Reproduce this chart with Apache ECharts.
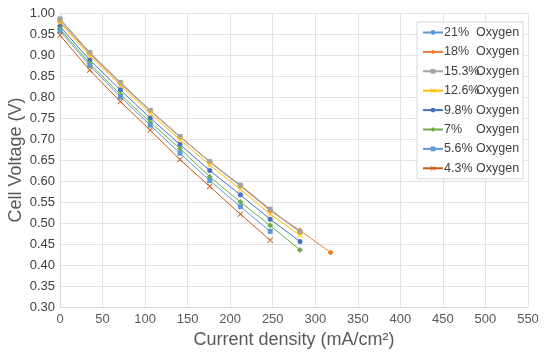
<!DOCTYPE html>
<html>
<head>
<meta charset="utf-8">
<script src="https://cdn.jsdelivr.net/npm/echarts@6/dist/echarts.min.js"></script>
<style>html,body{margin:0;padding:0;background:#fff}#c{width:550px;height:355px}</style>
</head>
<body>
<div id="c"></div>
<script>
const currentDensity = [0, 35, 71, 106, 141, 176, 212, 247, 282, 318];
const seriesNames = ['21%', '18%', '15.3%', '12.6%', '9.8%', '7%', '5.6%', '4.3%'];
const v21  = [0.985, 0.905, 0.835, 0.768, 0.706, 0.645, 0.588, 0.531, 0.479];
const v18  = [0.980, 0.903, 0.832, 0.767, 0.705, 0.646, 0.589, 0.530, 0.482, 0.430];
const v153 = [0.986, 0.906, 0.834, 0.768, 0.706, 0.646, 0.590, 0.533, 0.478];
const v126 = [0.976, 0.898, 0.828, 0.761, 0.698, 0.638, 0.580, 0.521, 0.471];
const v98  = [0.968, 0.888, 0.817, 0.750, 0.687, 0.625, 0.567, 0.509, 0.456];
const v7   = [0.962, 0.880, 0.806, 0.740, 0.677, 0.610, 0.550, 0.494, 0.436];
const v56  = [0.957, 0.875, 0.800, 0.733, 0.666, 0.601, 0.539, 0.480];
const v43  = [0.947, 0.864, 0.789, 0.721, 0.651, 0.587, 0.521, 0.459];
const xTicks = [0, 50, 100, 150, 200, 250, 300, 350, 400, 450, 500, 550];
const yTicks = [0.30, 0.35, 0.40, 0.45, 0.50, 0.55, 0.60, 0.65, 0.70, 0.75, 0.80, 0.85, 0.90, 0.95, 1.00];

const allValues = [v21, v18, v153, v126, v98, v7, v56, v43];
const colors = ['#5B9BD5', '#ED7D31', '#A5A5A5', '#FFC000', '#4472C4', '#70AD47', '#5B9BD5', '#C55A11'];
const crossPath = 'path://M1,0L5,4L9,0L10,1L6,5L10,9L9,10L5,6L1,10L0,9L4,5L0,1Z';
const symbols = ['circle', 'diamond', 'rect', crossPath, 'circle', 'diamond', 'rect', crossPath];
const sizes = [5, 6, 5, 6, 5, 6, 5, 6];

const series = allValues.map((vals, i) => ({
  name: seriesNames[i],
  type: 'line',
  data: vals.map((v, j) => [currentDensity[j], v]),
  symbol: symbols[i],
  symbolSize: sizes[i],
  showAllSymbol: true,
  itemStyle: { color: colors[i] },
  lineStyle: { color: colors[i], width: 1 },
  z: 2 + i
}));

const chart = echarts.init(document.getElementById('c'), null, { renderer: 'canvas' });
const font = '"Liberation Sans", Arial, sans-serif';
chart.setOption({
  animation: false,
  backgroundColor: '#fff',
  grid: { left: 60, right: 22, top: 13, bottom: 48, containLabel: false, outerBoundsMode: 'none' },
  xAxis: {
    type: 'value', min: xTicks[0], max: xTicks[xTicks.length - 1], interval: 50,
    name: 'Current density (mA/cm²)', nameLocation: 'middle', nameGap: 24, nameMoveOverlap: false,
    nameTextStyle: { fontFamily: font, fontSize: 18, color: '#595959' },
    axisLine: { show: true, lineStyle: { color: '#D9D9D9' } },
    axisTick: { show: false },
    axisLabel: { fontFamily: font, fontSize: 13, color: '#595959', margin: 6 },
    splitLine: { show: true, lineStyle: { color: '#E3E3E3' } }
  },
  yAxis: {
    type: 'value', min: yTicks[0], max: yTicks[yTicks.length - 1], interval: 0.05,
    name: 'Cell Voltage (V)', nameLocation: 'middle', nameGap: 35, nameMoveOverlap: false,
    nameTextStyle: { fontFamily: font, fontSize: 18, color: '#595959' },
    axisLine: { show: true, lineStyle: { color: '#D9D9D9' } },
    axisTick: { show: false },
    axisLabel: { fontFamily: font, fontSize: 13, color: '#404040', margin: 5,
      formatter: v => v.toFixed(2) },
    splitLine: { show: true, lineStyle: { color: '#E3E3E3' } }
  },
  legend: {
    orient: 'vertical', left: 417, top: 22,
    backgroundColor: '#fff', borderColor: '#D9D9D9', borderWidth: 1,
    padding: [4, 4, 4, 5],
    itemWidth: 20, itemHeight: 6, itemGap: 6.4,
    data: seriesNames,
    formatter: n => '{a|' + n + '}{b|Oxygen}',
    textStyle: {
      fontFamily: font, fontSize: 12.5, color: '#404040', padding: [0, 0, 0, -4],
      rich: {
        a: { width: 32, fontFamily: font, fontSize: 12.5, color: '#404040', height: 14 },
        b: { fontFamily: font, fontSize: 12.5, color: '#404040', height: 14 }
      }
    }
  },
  series: series
});
</script>
</body>
</html>
